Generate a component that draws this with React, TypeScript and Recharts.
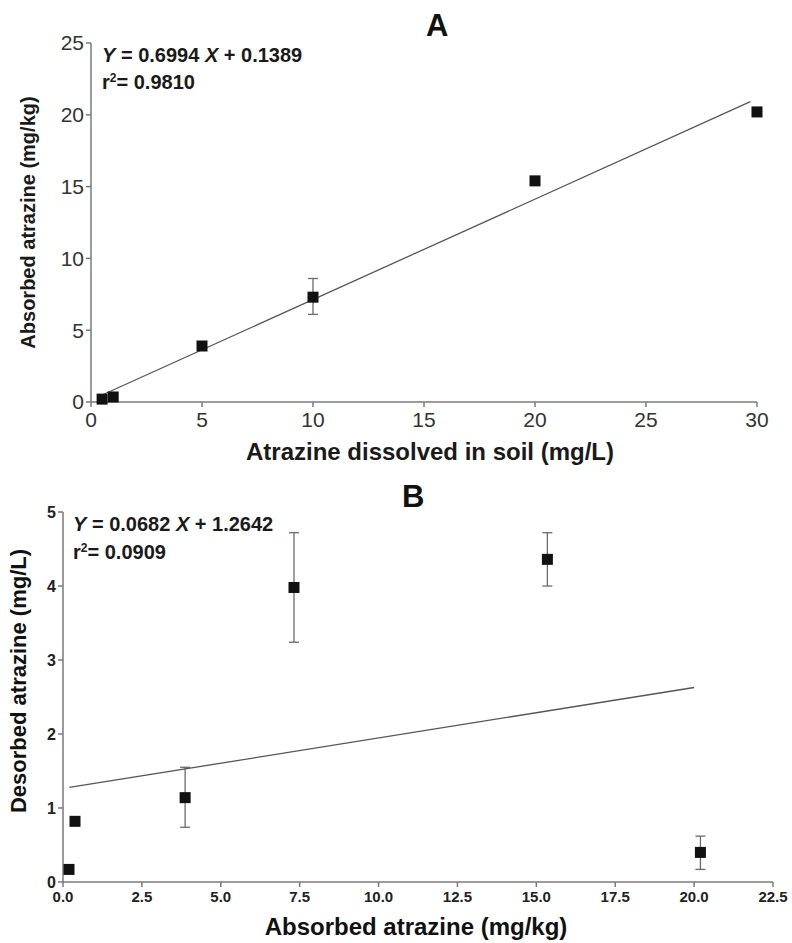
import React from 'react'
import {
  ScatterChart,
  Scatter,
  XAxis,
  YAxis,
  ErrorBar,
} from 'recharts'

// panel A: sorption
const dissolvedA = [0.5, 1, 5, 10, 20, 30]
const absorbedA = [0.2, 0.35, 3.9, 7.3, 15.4, 20.2]
const errLowA = [null, null, null, 6.1, null, null]
const errHighA = [null, null, null, 8.6, null, null]
const fitXA = [0.5, 29.7]
const slopeA = 0.6994
const interceptA = 0.1389
const ticksXA = [0, 5, 10, 15, 20, 25, 30]
const ticksYA = [0, 5, 10, 15, 20, 25]

// panel B: desorption
const absorbedB = [0.19, 0.38, 3.87, 7.32, 15.35, 20.2]
const desorbedB = [0.17, 0.82, 1.14, 3.98, 4.36, 0.4]
const errLowB = [null, null, 0.74, 3.24, 4.0, 0.17]
const errHighB = [null, null, 1.55, 4.72, 4.72, 0.62]
const fitXB = [0.2, 20.0]
const slopeB = 0.0682
const interceptB = 1.2642
const ticksXB = [0, 2.5, 5, 7.5, 10, 12.5, 15, 17.5, 20, 22.5]
const ticksYB = [0, 1, 2, 3, 4, 5]

const FONT = 'Liberation Sans, Arial, sans-serif'
const AXIS = '#7a7a7a'
const ERR = '#6a6a6a'
const FIT = '#555'

const points = (xs: number[], ys: number[]) => xs.map((x, i) => ({ x, y: ys[i] }))

const withErrors = (xs: number[], ys: number[], lo: (number | null)[], hi: (number | null)[]) =>
  xs
    .map((x, i) => ({ x, y: ys[i], lo: lo[i], hi: hi[i] }))
    .filter((d) => d.lo != null && d.hi != null)
    .map((d) => ({ x: d.x, y: d.y, err: [d.y - (d.lo as number), (d.hi as number) - d.y] }))

const fitLine = (xs: number[], m: number, b: number) => xs.map((x) => ({ x, y: m * x + b }))

const square = (size: number) => (props: any) => {
  const { cx, cy } = props
  return <rect x={cx - size / 2} y={cy - size / 2} width={size} height={size} fill="#111" />
}

const noShape = () => <g />

const annoStyle: React.CSSProperties = {
  position: 'absolute',
  fontFamily: FONT,
  fontWeight: 700,
  fontSize: 20,
  color: '#1a1a1a',
  whiteSpace: 'nowrap',
  lineHeight: '20px',
}

const titleStyle: React.CSSProperties = {
  position: 'absolute',
  fontFamily: FONT,
  fontWeight: 700,
  fontSize: 31,
  color: '#111',
  lineHeight: '31px',
}

const supStyle: React.CSSProperties = { fontSize: 12, verticalAlign: 'top', lineHeight: '12px' }

export default function App() {
  const dataA = points(dissolvedA, absorbedA)
  const errA = withErrors(dissolvedA, absorbedA, errLowA, errHighA)
  const lineA = fitLine(fitXA, slopeA, interceptA)
  const dataB = points(absorbedB, desorbedB)
  const errB = withErrors(absorbedB, desorbedB, errLowB, errHighB)
  const lineB = fitLine(fitXB, slopeB, interceptB)

  return (
    <div style={{ position: 'absolute', left: 0, top: 0, width: 792, height: 943, background: '#fff' }}>
      <div style={{ position: 'absolute', left: 0, top: 0 }}>
        <ScatterChart width={792} height={470} margin={{ top: 43, right: 35, bottom: 0, left: 31 }}>
          <XAxis
            type="number"
            dataKey="x"
            domain={[0, 30]}
            ticks={ticksXA}
            height={68}
            stroke={AXIS}
            strokeWidth={1.5}
            tickSize={5}
            tickMargin={5}
            tick={{ fontSize: 21, fill: '#333', fontFamily: FONT }}
            label={{
              value: 'Atrazine dissolved in soil (mg/L)',
              position: 'insideBottom',
              offset: 10,
              dx: 6,
              style: { fontSize: 24, fontWeight: 700, fill: '#1a1a1a', fontFamily: FONT },
            }}
          />
          <YAxis
            type="number"
            dataKey="y"
            domain={[0, 25]}
            ticks={ticksYA}
            width={60}
            stroke={AXIS}
            strokeWidth={1.5}
            tickSize={5}
            tick={{ fontSize: 21, fill: '#333', fontFamily: FONT }}
            label={{
              value: 'Absorbed atrazine (mg/kg)',
              angle: -90,
              position: 'insideLeft',
              offset: -3,
              style: { textAnchor: 'middle', fontSize: 20, fontWeight: 700, fill: '#1a1a1a', fontFamily: FONT },
            }}
          />
          <Scatter data={lineA} line={{ stroke: FIT, strokeWidth: 1.3 }} shape={noShape} isAnimationActive={false} />
          <Scatter data={errA} shape={noShape} isAnimationActive={false}>
            <ErrorBar dataKey="err" direction="y" width={5} stroke={ERR} strokeWidth={1.3} />
          </Scatter>
          <Scatter data={dataA} shape={square(11)} isAnimationActive={false} />
        </ScatterChart>
      </div>

      <div style={{ position: 'absolute', left: 0, top: 470 }}>
        <ScatterChart width={792} height={473} margin={{ top: 42, right: 19, bottom: 0, left: 3 }}>
          <XAxis
            type="number"
            dataKey="x"
            domain={[0, 22.5]}
            ticks={ticksXB}
            tickFormatter={(v: number) => v.toFixed(1)}
            height={61}
            stroke={AXIS}
            strokeWidth={1.5}
            tickSize={5}
            tickMargin={4}
            tick={{ fontSize: 15, fontWeight: 700, fill: '#222', fontFamily: FONT }}
            label={{
              value: 'Absorbed atrazine (mg/kg)',
              position: 'insideBottom',
              offset: 8,
              dx: -2,
              style: { fontSize: 24, fontWeight: 700, fill: '#111', fontFamily: FONT },
            }}
          />
          <YAxis
            type="number"
            dataKey="y"
            domain={[0, 5]}
            ticks={ticksYB}
            width={60}
            stroke={AXIS}
            strokeWidth={1.5}
            tickSize={5}
            tick={{ fontSize: 16, fontWeight: 700, fill: '#222', fontFamily: FONT }}
            label={{
              value: 'Desorbed atrazine (mg/L)',
              angle: -90,
              position: 'insideLeft',
              offset: 15,
              dy: -16,
              style: { textAnchor: 'middle', fontSize: 22, fontWeight: 700, fill: '#111', fontFamily: FONT },
            }}
          />
          <Scatter data={lineB} line={{ stroke: FIT, strokeWidth: 1.3 }} shape={noShape} isAnimationActive={false} />
          <Scatter data={errB} shape={noShape} isAnimationActive={false}>
            <ErrorBar dataKey="err" direction="y" width={5} stroke={ERR} strokeWidth={1.3} />
          </Scatter>
          <Scatter data={dataB} shape={square(11)} isAnimationActive={false} />
        </ScatterChart>
      </div>

      <div style={{ ...titleStyle, left: 426, top: 10 }}>A</div>
      <div style={{ ...titleStyle, left: 402, top: 481 }}>B</div>

      <div style={{ ...annoStyle, left: 102, top: 45 }}>
        <i>Y</i> = 0.6994 <i>X</i> + 0.1389
      </div>
      <div style={{ ...annoStyle, left: 102, top: 72 }}>
        r<sup style={supStyle}>2</sup>= 0.9810
      </div>
      <div style={{ ...annoStyle, left: 73, top: 514 }}>
        <i>Y</i> = 0.0682 <i>X</i> + 1.2642
      </div>
      <div style={{ ...annoStyle, left: 73, top: 542 }}>
        r<sup style={supStyle}>2</sup>= 0.0909
      </div>
    </div>
  )
}
